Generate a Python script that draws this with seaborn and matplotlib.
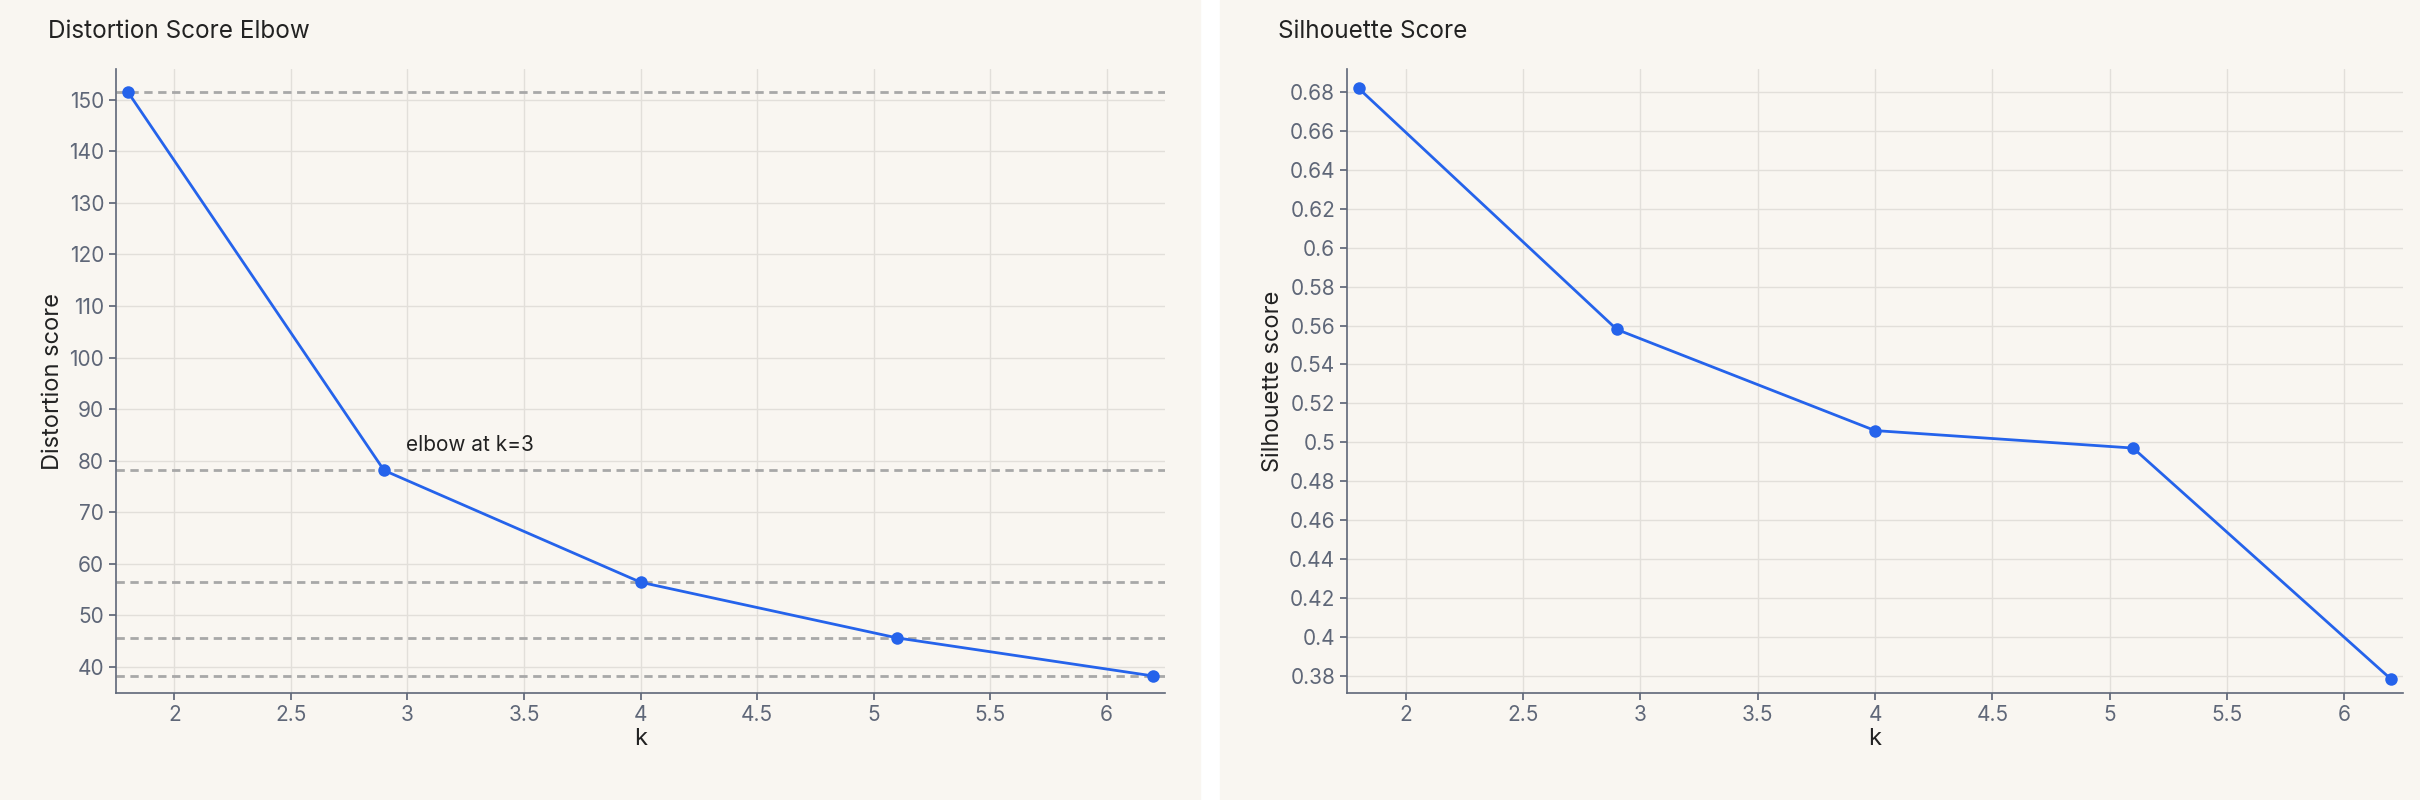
import matplotlib
matplotlib.use("Agg")
import matplotlib.pyplot as plt
import seaborn as sns
import pandas as pd
from matplotlib.patches import Rectangle

# values
k_pos = [1.8, 2.9, 4.0, 5.1, 6.2]
distortion = [151.6, 78.1, 56.4, 45.6, 38.2]
silhouette = [0.682, 0.558, 0.506, 0.497, 0.378]
x_ticks = [2, 2.5, 3, 3.5, 4, 4.5, 5, 5.5, 6]

sns.set_theme(style="whitegrid")
plt.rcParams['font.family'] = ['Inter', 'DejaVu Sans']

bg = "#f9f6f1"
line_col = "#2563eb"
tick_col = "#5f6778"

fig = plt.figure(figsize=(24.2, 8), dpi=100)
fig.patch.set_facecolor("white")
fig.patches.append(Rectangle((0, 0), 1200 / 2420, 1, transform=fig.transFigure, color=bg, zorder=-10))
fig.patches.append(Rectangle((1220 / 2420, 0), 1200 / 2420, 1, transform=fig.transFigure, color=bg, zorder=-10))

ax1 = fig.add_axes([116 / 2420, 107 / 800, 1049 / 2420, 624 / 800])
ax2 = fig.add_axes([1347 / 2420, 107 / 800, 1056 / 2420, 624 / 800])

df = pd.DataFrame({"k": k_pos, "distortion": distortion, "silhouette": silhouette})


def style(ax, title, ylabel):
    ax.set_facecolor(bg)
    ax.grid(True, color="#e2dfda", linewidth=1)
    for s in ["top", "right"]:
        ax.spines[s].set_visible(False)
    for s in ["left", "bottom"]:
        ax.spines[s].set_color(tick_col)
        ax.spines[s].set_linewidth(1.2)
    ax.set_xlim(1.75, 6.25)
    ax.set_xticks(x_ticks)
    ax.set_xticklabels([f"{t:g}" for t in x_ticks])
    ax.tick_params(colors=tick_col, labelsize=15, length=5, left=True, bottom=True)
    ax.set_xlabel("k", fontsize=17, color="#222", labelpad=2)
    ax.set_ylabel(ylabel, fontsize=17, color="#222", labelpad=4)
    ax.text(-0.065, 1.06, title, transform=ax.transAxes, fontsize=17.5, color="#222", va="center")


# left: elbow
for d in distortion:
    ax1.axhline(d, color="#a8a8a8", linestyle=(0, (3, 2)), linewidth=2, zorder=1)
sns.lineplot(data=df, x="k", y="distortion", ax=ax1, color=line_col, linewidth=2,
             marker="o", markersize=9, markeredgewidth=0, zorder=3)
ax1.set_ylim(34.9, 156)
ax1.set_yticks(range(40, 151, 10))
style(ax1, "Distortion Score Elbow", "Distortion score")
ax1.annotate("elbow at k=3", (k_pos[1], distortion[1]), xytext=(16, 14), textcoords="offset points",
             fontsize=15, color="#222")

# right: silhouette
sns.lineplot(data=df, x="k", y="silhouette", ax=ax2, color=line_col, linewidth=2,
             marker="o", markersize=9, markeredgewidth=0, zorder=3)
ax2.set_ylim(0.371, 0.692)
yt = [round(0.38 + 0.02 * i, 2) for i in range(16)]
ax2.set_yticks(yt)
ax2.set_yticklabels([f"{v:g}" for v in yt])
style(ax2, "Silhouette Score", "Silhouette score")

fig.savefig("out.png", dpi=100)
